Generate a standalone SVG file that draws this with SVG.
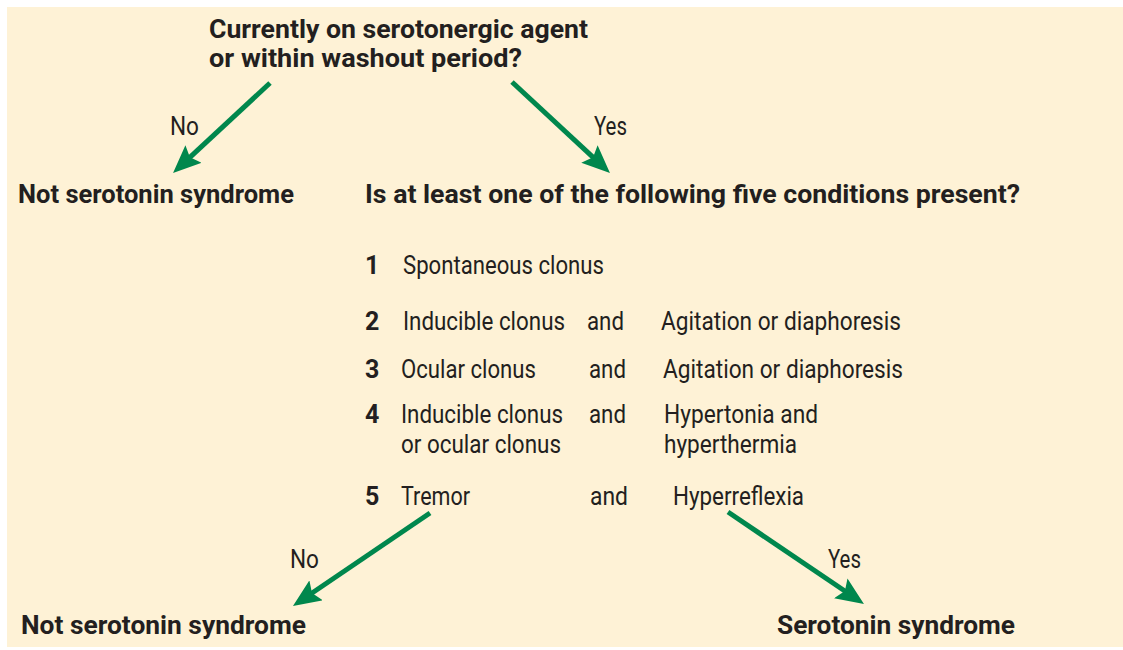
<svg xmlns="http://www.w3.org/2000/svg" width="1123" height="650" viewBox="0 0 1123 650">
<style>
.b{font-family:Roboto,"Liberation Sans",sans-serif;font-weight:bold;font-size:26px;fill:#231f20}
.r{font-family:Roboto,"Liberation Sans",sans-serif;font-size:25px;fill:#231f20}
.n{font-family:Roboto,"Liberation Sans",sans-serif;font-weight:bold;font-size:25px;fill:#231f20}
.c{stroke:#00874d;stroke-width:5;fill:none;marker-end:url(#ah)}
</style>
<defs>
<marker id="ah" markerUnits="userSpaceOnUse" markerWidth="28" markerHeight="24" viewBox="0 0 28 24" refX="8" refY="12" orient="auto">
<path d="M0,0 L28,12 L0,24 L5,12 z" fill="#00874d"/>
</marker>
</defs>
<rect x="7" y="7" width="1116" height="640" fill="#fef2d6"/>
<g id="connectors">
<line class="c" x1="270" y1="83" x2="187.7" y2="159.4"/>
<line class="c" x1="512" y1="82" x2="595.3" y2="159.4"/>
<line class="c" x1="430" y1="513" x2="309.5" y2="594.8"/>
<line class="c" x1="728" y1="512" x2="847.4" y2="592.8"/>
<text class="r" x="170" y="135" textLength="29" lengthAdjust="spacingAndGlyphs">No</text>
<text class="r" x="594" y="135" textLength="33" lengthAdjust="spacingAndGlyphs">Yes</text>
<text class="r" x="290" y="568" textLength="29" lengthAdjust="spacingAndGlyphs">No</text>
<text class="r" x="828" y="568" textLength="33" lengthAdjust="spacingAndGlyphs">Yes</text>
</g>
<g id="question1">
<text class="b" x="209" y="38" textLength="379" lengthAdjust="spacingAndGlyphs">Currently on serotonergic agent</text>
<text class="b" x="209" y="67" textLength="313" lengthAdjust="spacingAndGlyphs">or within washout period?</text>
</g>
<g id="not1">
<text class="b" x="18" y="203" textLength="276" lengthAdjust="spacingAndGlyphs">Not serotonin syndrome</text>
</g>
<g id="question2">
<text class="b" x="365" y="203" textLength="655" lengthAdjust="spacingAndGlyphs">Is at least one of the following five conditions present?</text>
<text class="n" x="365" y="274">1</text>
<text class="r" x="403" y="274" textLength="201" lengthAdjust="spacingAndGlyphs">Spontaneous clonus</text>
<text class="n" x="365" y="330">2</text>
<text class="r" x="403" y="330" textLength="162" lengthAdjust="spacingAndGlyphs">Inducible clonus</text>
<text class="r" x="587" y="330" textLength="37" lengthAdjust="spacingAndGlyphs">and</text>
<text class="r" x="661" y="330" textLength="240" lengthAdjust="spacingAndGlyphs">Agitation or diaphoresis</text>
<text class="n" x="365" y="378">3</text>
<text class="r" x="401" y="378" textLength="135" lengthAdjust="spacingAndGlyphs">Ocular clonus</text>
<text class="r" x="589" y="378" textLength="37" lengthAdjust="spacingAndGlyphs">and</text>
<text class="r" x="663" y="378" textLength="240" lengthAdjust="spacingAndGlyphs">Agitation or diaphoresis</text>
<text class="n" x="365" y="423">4</text>
<text class="r" x="401" y="423" textLength="162" lengthAdjust="spacingAndGlyphs">Inducible clonus</text>
<text class="r" x="589" y="423" textLength="37" lengthAdjust="spacingAndGlyphs">and</text>
<text class="r" x="664" y="423" textLength="154" lengthAdjust="spacingAndGlyphs">Hypertonia and</text>
<text class="r" x="401" y="453" textLength="160" lengthAdjust="spacingAndGlyphs">or ocular clonus</text>
<text class="r" x="664" y="453" textLength="133" lengthAdjust="spacingAndGlyphs">hyperthermia</text>
<text class="n" x="365" y="505">5</text>
<text class="r" x="401" y="505" textLength="69" lengthAdjust="spacingAndGlyphs">Tremor</text>
<text class="r" x="590" y="505" textLength="38" lengthAdjust="spacingAndGlyphs">and</text>
<text class="r" x="673" y="505" textLength="131" lengthAdjust="spacingAndGlyphs">Hyperreflexia</text>
</g>
<g id="not2">
<text class="b" x="21" y="634" textLength="285" lengthAdjust="spacingAndGlyphs">Not serotonin syndrome</text>
</g>
<g id="yes2">
<text class="b" x="777" y="634" textLength="238" lengthAdjust="spacingAndGlyphs">Serotonin syndrome</text>
</g>
</svg>
